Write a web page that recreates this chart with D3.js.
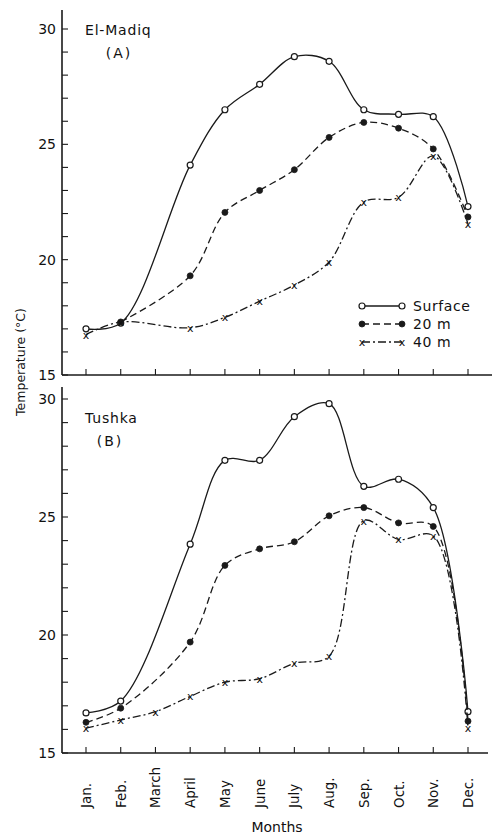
<!DOCTYPE html>
<html>
<head>
<meta charset="utf-8">
<script src="https://d3js.org/d3.v7.min.js"></script>
<style>
  body { margin: 0; background: #fff; }
  text { font-family: 'DejaVu Sans', sans-serif; fill: #111; }
</style>
</head>
<body>
<script>

var width = 500;
var height = 838;

var months = ['Jan.', 'Feb.', 'March', 'April', 'May', 'June', 'July', 'Aug.', 'Sep.', 'Oct.', 'Nov.', 'Dec.'];

// El-Madiq (A)
var madiqSurface = [17.0, 17.25, null, 24.1, 26.5, 27.6, 28.8, 28.6, 26.5, 26.3, 26.2, 22.3];
var madiq20 = [null, 17.3, null, 19.3, 22.05, 23.0, 23.9, 25.3, 25.95, 25.7, 24.8, 21.85];
var madiq40 = [16.75, 17.3, null, 17.05, 17.5, 18.2, 18.9, 19.9, 22.5, 22.7, 24.5, 21.55];

// Tushka (B)
var tushkaSurface = [16.7, 17.2, null, 23.85, 27.4, 27.4, 29.25, 29.8, 26.3, 26.6, 25.4, 16.75];
var tushka20 = [16.3, 16.9, null, 19.7, 22.95, 23.65, 23.95, 25.05, 25.4, 24.75, 24.6, 16.35];
var tushka40 = [16.05, 16.4, 16.75, 17.4, 18.0, 18.15, 18.8, 19.1, 24.85, 24.05, 24.2, 16.05];

var yTicks = [15, 20, 25, 30];
var seriesNames = ['Surface', '20 m', '40 m'];

var ink = '#1a1a1a';

var svg = d3.select('body').append('svg')
  .attr('width', width)
  .attr('height', height);

var x = d3.scalePoint()
  .domain(months)
  .range([86, 468]);

var panels = [
  { name: 'El-Madiq', tag: '(A)', top: 29, bottom: 375, series: [madiqSurface, madiq20, madiq40], axisTop: 10, xEnd: 492, lx: 85, tx: 119, ly: 35 },
  { name: 'Tushka', tag: '(B)', top: 399, bottom: 753, series: [tushkaSurface, tushka20, tushka40], axisTop: 387, xEnd: 488, lx: 85, tx: 110, ly: 423 }
];

var styles = [
  { dash: null, marker: 'open' },
  { dash: '7,4', marker: 'dot' },
  { dash: '8,3,2,3', marker: 'x' }
];

function drawMarker(g, type, cx, cy) {
  if (type == 'open') {
    g.append('circle').attr('cx', cx).attr('cy', cy).attr('r', 3)
      .style('fill', '#fff').style('stroke', ink).style('stroke-width', 1.2);
  } else if (type == 'dot') {
    g.append('circle').attr('cx', cx).attr('cy', cy).attr('r', 3)
      .style('fill', ink).style('stroke', ink).style('stroke-width', 0.8);
  } else {
    g.append('text').attr('x', cx).attr('y', cy + 4)
      .attr('text-anchor', 'middle')
      .style('font-size', '11px')
      .text('x');
  }
}

panels.forEach(function (p) {
  var y = d3.scaleLinear().domain([15, 30]).range([p.bottom, p.top]);
  var g = svg.append('g');

  // axes lines
  g.append('line').attr('x1', 62).attr('x2', 62).attr('y1', p.axisTop).attr('y2', p.bottom)
    .style('stroke', ink).style('stroke-width', 1.6);
  g.append('line').attr('x1', 62).attr('x2', p.xEnd).attr('y1', p.bottom).attr('y2', p.bottom)
    .style('stroke', ink).style('stroke-width', 1.6);

  // y ticks (minor every 1 deg)
  g.selectAll('.ytick').data(d3.range(15, 31)).enter().append('line')
    .attr('x1', 62).attr('x2', 68)
    .attr('y1', function (d) { return y(d); })
    .attr('y2', function (d) { return y(d); })
    .style('stroke', ink).style('stroke-width', 1.1);
  g.selectAll('.ylab').data(yTicks).enter().append('text')
    .attr('x', 56)
    .attr('y', function (d) { return y(d) + 5; })
    .attr('text-anchor', 'end')
    .style('font-size', '14px')
    .text(function (d) { return d; });

  // x ticks
  g.selectAll('.xtick').data(months).enter().append('line')
    .attr('x1', function (d) { return x(d); })
    .attr('x2', function (d) { return x(d); })
    .attr('y1', p.bottom).attr('y2', p.bottom - 6)
    .style('stroke', ink).style('stroke-width', 1.1);

  // panel label
  g.append('text').attr('x', p.lx).attr('y', p.ly)
    .style('font-size', '14px').style('letter-spacing', '0.8px')
    .text(p.name);
  g.append('text').attr('x', p.tx).attr('y', p.ly + 23)
    .attr('text-anchor', 'middle').style('font-size', '14px').style('letter-spacing', '2px')
    .text(p.tag);

  p.series.forEach(function (vals, i) {
    var pts = vals.map(function (v, k) { return [months[k], v]; })
      .filter(function (d) { return d[1] != null; });
    var line = d3.line()
      .x(function (d) { return x(d[0]); })
      .y(function (d) { return y(d[1]); })
      .curve(d3.curveCatmullRom.alpha(0.5));
    g.append('path')
      .datum(pts)
      .attr('d', line)
      .style('fill', 'none')
      .style('stroke', ink)
      .style('stroke-width', 1.3)
      .attr('stroke-dasharray', styles[i].dash);
    pts.forEach(function (d) {
      drawMarker(g, styles[i].marker, x(d[0]), y(d[1]));
    });
  });
});

// legend
var legend = svg.append('g');
seriesNames.forEach(function (name, i) {
  var ly = 306 + i * 18;
  legend.append('line').attr('x1', 362).attr('x2', 402).attr('y1', ly).attr('y2', ly)
    .style('stroke', ink).style('stroke-width', 1.3)
    .attr('stroke-dasharray', styles[i].dash);
  drawMarker(legend, styles[i].marker, 362, ly);
  drawMarker(legend, styles[i].marker, 402, ly);
  legend.append('text').attr('x', 413).attr('y', ly + 5)
    .style('font-size', '14px').style('letter-spacing', '0.6px')
    .text(name);
});

// month labels
svg.selectAll('.mlab').data(months).enter().append('text')
  .attr('transform', function (d) { return 'translate(' + (x(d) + 5) + ',808) rotate(-90)'; })
  .style('font-size', '13.5px')
  .text(function (d) { return d; });

svg.append('text').attr('x', 277).attr('y', 832)
  .attr('text-anchor', 'middle').style('font-size', '14px')
  .text('Months');

svg.append('text')
  .attr('transform', 'translate(25,362) rotate(-90)')
  .attr('text-anchor', 'middle').style('font-size', '12.5px')
  .text('Temperature (°C)');

</script>
</body>
</html>
